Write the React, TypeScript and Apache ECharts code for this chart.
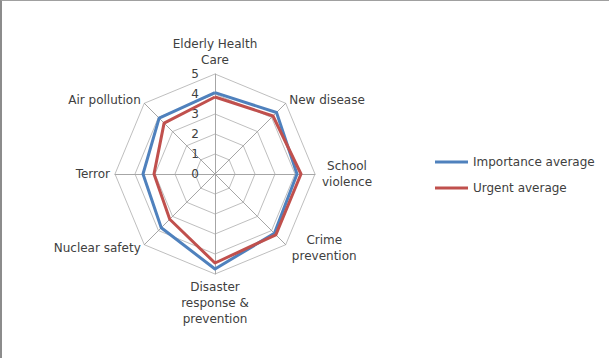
import React, { useEffect, useRef } from "react";
import * as echarts from "echarts";

// Clockwise order, starting at the top
const indicators = [
  "Elderly Health\nCare",
  "New disease",
  "School\nviolence",
  "Crime\nprevention",
  "Disaster\nresponse &\nprevention",
  "Nuclear safety",
  "Terror",
  "Air pollution",
];
const importanceAvg = [4.07, 4.35, 4.1, 4.2, 4.75, 3.8, 3.6, 3.95];
const urgentAvg = [3.85, 4.1, 4.3, 4.3, 4.45, 3.2, 3.05, 3.6];
const seriesNames = ["Importance average", "Urgent average"];
const maxValue = 5;

// ECharts radar runs counter-clockwise: keep the first, reverse the rest
const toCcw = <T,>(arr: T[]): T[] => [arr[0], ...arr.slice(1).reverse()];

export default function App() {
  const ref = useRef<HTMLDivElement>(null);
  useEffect(() => {
    if (!ref.current) return;
    const chart = echarts.init(ref.current, null, { renderer: "svg" });
    const font = "'DejaVu Sans', 'Open Sans', sans-serif";
    const nameStyle = { color: "#404040", fontSize: 12, fontFamily: font, lineHeight: 16 };
    chart.setOption({
      animation: false,
      backgroundColor: "#ffffff",
      textStyle: { fontFamily: font },
      legend: {
        orient: "vertical",
        left: 428,
        top: 150,
        itemWidth: 33,
        itemHeight: 3,
        itemGap: 14,
        icon: "rect",
        data: seriesNames,
        textStyle: { fontSize: 12, color: "#404040", fontFamily: font },
      },
      radar: {
        center: [213, 173],
        radius: 100,
        startAngle: 90,
        shape: "polygon",
        splitNumber: 5,
        nameGap: 5,
        axisName: {
          ...nameStyle,
          formatter: (name: string) => {
            if (name === "School\nviolence") return "{sv|School}\n{sv|violence}";
            if (name === "Crime\nprevention") return "{cp|Crime}\n{cp|prevention}";
            return name;
          },
          rich: {
            sv: { ...nameStyle, width: 54, align: "center" },
            cp: { ...nameStyle, width: 70, align: "center" },
          },
        },
        splitLine: { lineStyle: { color: "#bfbfbf", width: 1 } },
        splitArea: { show: false },
        axisLine: { lineStyle: { color: "#a6a6a6", width: 1 } },
        axisTick: { show: false },
        axisLabel: { show: false },
        indicator: toCcw(indicators).map((name, i) =>
          i === 0
            ? {
                name,
                min: 0,
                max: maxValue,
                axisLabel: {
                  show: true,
                  color: "#404040",
                  fontSize: 12,
                  fontFamily: font,
                  margin: 16,
                  showMinLabel: true,
                  showMaxLabel: true,
                },
              }
            : { name, min: 0, max: maxValue }
        ),
      },
      series: [
        {
          type: "radar",
          symbol: "none",
          data: [
            {
              name: seriesNames[0],
              value: toCcw(importanceAvg),
              lineStyle: { color: "#4f81bd", width: 3 },
              itemStyle: { color: "#4f81bd" },
            },
            {
              name: seriesNames[1],
              value: toCcw(urgentAvg),
              lineStyle: { color: "#c0504d", width: 3 },
              itemStyle: { color: "#c0504d" },
            },
          ],
        },
      ],
    });
    return () => chart.dispose();
  }, []);
  return (
    <div
      style={{
        position: "fixed",
        left: 0,
        top: 0,
        width: 609,
        height: 358,
        boxSizing: "border-box",
        borderLeft: "2px solid #8c8c8c",
        borderTop: "1px solid #a0a0a0",
        background: "#fff",
      }}
    >
      <div ref={ref} style={{ width: 607, height: 357 }} />
    </div>
  );
}
